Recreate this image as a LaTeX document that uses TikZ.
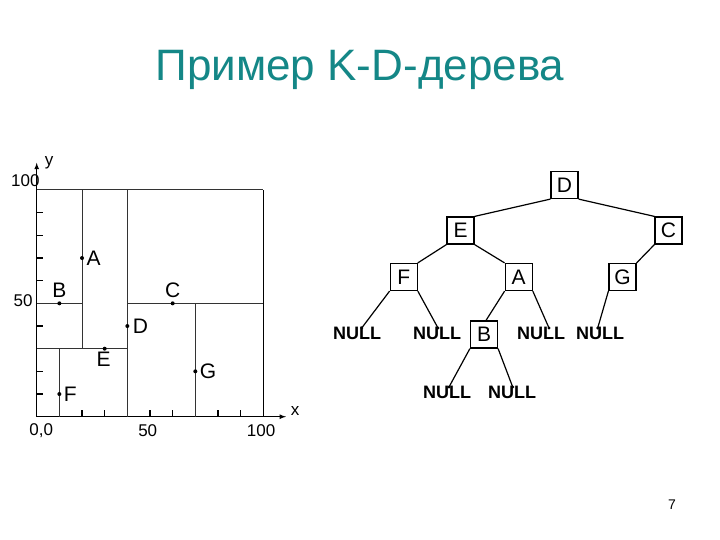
\documentclass[tikz,border=0pt]{standalone}
\usepackage{fontspec}
\setmainfont{Liberation Sans}
\begin{document}
\begin{tikzpicture}[x=1pt,y=-1pt,
  lin/.style={line width=1pt, black!80},
  tbox/.style={draw, line width=1.2pt, minimum size=27pt, inner sep=0pt, font=\fontsize{21}{21}\selectfont},
  nul/.style={font=\bfseries\fontsize{18}{18}\selectfont, inner sep=0pt, anchor=north},
  dot/.style={circle, fill, inner sep=0pt, minimum size=4pt},
  lab/.style={font=\fontsize{21}{21}\selectfont},
  ax/.style={font=\fontsize{17}{17}\selectfont}]
\useasboundingbox (0,0) rectangle (720,540);
\node[font=\fontsize{44}{44}\selectfont, text={rgb,255:red,20;green,135;blue,135}] (title) at (360,70) {Пример K-D-дерева};
\node[font=\fontsize{14}{14}\selectfont] (pg) at (672,505) {7};
% plot
\begin{scope}[shift={(36.7,416.7)}, x=2.266pt, y=2.267pt]
  \coordinate (O) at (0,0);
  \coordinate (xe) at (110,0);
  \coordinate (ye) at (0,112);
  \draw[line width=1.2pt, -latex] (O) -- (xe);
  \draw[line width=1.2pt, -latex] (O) -- (ye);
  \foreach \t in {10,20,...,90} {
    \draw[line width=1.2pt] (\t,0) -- (\t,2.8);
    \draw[line width=1.2pt] (0,\t) -- (2.8,\t);
  }
  \draw[lin] (0,100) -- (100,100);
  \draw[line width=1.5pt] (100,0) -- (100,100);
  \draw[lin] (40,0) -- (40,100);
  \draw[lin] (20,30) -- (20,100);
  \draw[lin] (0,50) -- (20,50);
  \draw[lin] (0,30) -- (40,30);
  \draw[lin] (10,0) -- (10,30);
  \draw[lin] (40,50) -- (100,50);
  \draw[lin] (70,0) -- (70,50);
  \node[dot] (pA) at (20,70) {}; \node[lab, right=1pt] at (pA) {A};
  \node[dot] (pB) at (10,50) {}; \node[lab, above=2pt] at (pB) {B};
  \node[dot] (pC) at (60,50) {}; \node[lab, above=2pt] at (pC) {C};
  \node[dot] (pD) at (40,40) {}; \node[lab, right=2pt] at (pD) {D};
  \node[dot] (pE) at (30,30) {}; \node[lab, below=0pt, xshift=-1pt] at (pE) {E};
  \node[dot] (pF) at (10,10) {}; \node[lab, right=1pt] at (pF) {F};
  \node[dot] (pG) at (70,20) {}; \node[lab, right=1pt] at (pG) {G};
  \node[ax] at (-5,104) {100};
  \node[ax] at (-6,51) {50};
  \node[ax] at (2,-6) {0,0};
  \node[ax] at (49,-6) {50};
  \node[ax] at (99,-6) {100};
  \node[ax] at (5.5,112) {y};
  \node[ax] at (114,2.5) {x};
\end{scope}
% tree
\node[tbox] (D) at (564.5,185) {D};
\node[tbox] (E) at (460.5,230.5) {E};
\node[tbox] (C) at (668.5,230.5) {C};
\node[tbox] (F) at (403.7,277) {F};
\node[tbox] (A) at (518.7,277) {A};
\node[tbox] (G) at (622.5,277) {G};
\node[tbox] (B) at (484,334.5) {B};
\node[nul] (n1) at (357,327) {NULL};
\node[nul] (n2) at (437,327) {NULL};
\node[nul] (n3) at (541,327) {NULL};
\node[nul] (n4) at (600,327) {NULL};
\node[nul] (n5) at (447,386) {NULL};
\node[nul] (n6) at (512,386) {NULL};
\foreach \n/\dx in {n1/4.7,n2/1,n3/8,n4/-2.3,n5/2,n6/0.7} {
  \coordinate (\n d) at ([xshift=\dx pt, yshift=-1pt]\n.north);
  \fill (\n d) circle (1.6pt);
}
\begin{scope}[line width=1.2pt]
\draw (D.south west) -- (E.north east);
\draw (D.south east) -- (C.north west);
\draw (E.south west) -- (F.north east);
\draw (E.south east) -- (A.north west);
\draw (C.south west) -- (G.north east);
\draw (F.south west) -- (n1d);
\draw (F.south east) -- (n2d);
\draw (A.south west) -- ([xshift=2pt]B.north);
\draw (A.south east) -- (n3d);
\draw (G.south west) -- (n4d);
\draw (B.south west) -- (n5d);
\draw (B.south east) -- (n6d);
\end{scope}
\end{tikzpicture}
\end{document}
